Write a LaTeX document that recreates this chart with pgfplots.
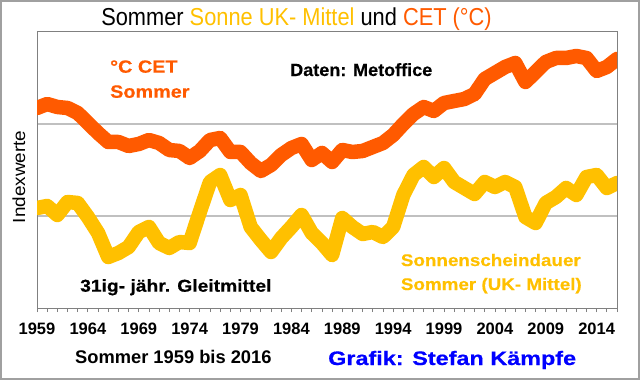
\documentclass[border=0pt]{standalone}
\usepackage{fontspec}
\setmainfont{Liberation Sans}
\usepackage{pgfplots}
\usepackage{pgfplotstable}
\pgfplotsset{compat=1.18}
\newfontfamily\titlefont[FakeStretch=0.89]{Liberation Sans}
\newfontfamily\blk[FakeStretch=1.12,FakeBold=0.4]{Liberation Sans}
\newfontfamily\blkn[FakeStretch=1.02,FakeBold=0.4]{Liberation Sans}
\newfontfamily\idxfont[FakeStretch=1.08]{Liberation Sans}
\newfontfamily\grafikfont[FakeStretch=1.2,FakeBold=0.5]{Liberation Sans}
\definecolor{cet}{RGB}{255,90,0}
\definecolor{sun}{RGB}{255,192,0}
\definecolor{axgray}{RGB}{128,128,128}
\definecolor{gridgray}{RGB}{192,192,192}
\definecolor{framegray}{RGB}{160,160,160}

\pgfplotstableread{
year cet sun
1959 200 100
1960 204 102
1961 201 93
1962 200 106
1963 195 105
1964 185 91
1965 175 75
1966 166 51
1967 166 55
1968 162 61
1969 164 76
1970 168 81
1971 165 65
1972 158 60
1973 157 66
1974 150 65
1975 157 96
1976 168 126
1977 170 133
1978 156 108
1979 156 113
1980 145 81
1981 137 68
1982 143 56
1983 153 70
1984 160 81
1985 164 93
1986 148 75
1987 155 65
1988 146 53
1989 158 90
1990 156 81
1991 157 74
1992 161 76
1993 165 71
1994 173 81
1995 184 113
1996 194 133
1997 201 141
1998 197 131
1999 205 140
2000 207 126
2001 209 120
2002 214 114
2003 229 126
2004 235 121
2005 241 126
2006 245 121
2007 226 91
2008 236 85
2009 246 105
2010 250 111
2011 250 120
2012 252 113
2013 250 131
2014 237 133
2015 241 120
2016 249 125
}\data

\begin{document}
\begin{tikzpicture}[x=1bp,y=1bp]
\path[use as bounding box] (0,0) rectangle (640,380);
\draw[framegray, line width=2bp] (1,1) rectangle (639,379);
\begin{axis}[
  at={(37bp,72bp)}, anchor=south west,
  scale only axis, width=580bp, height=276bp,
  xmin=1959, xmax=2016, ymin=0, ymax=276,
  xtick={1959,1964,1969,1974,1979,1984,1989,1994,1999,2004,2009,2014},
  xticklabels={1959,1964,1969,1974,1979,1984,1989,1994,1999,2004,2009,2014},
  minor xtick={1959,1960,...,2016},
  xtick pos=bottom, tick align=outside,
  major tick length=4bp, minor tick length=4bp,
  tick style={axgray, line width=0.8bp},
  ytick={92,184}, yticklabels={}, ymajorgrids,
  ytick style={draw=none},
  axis line style={axgray, line width=1bp},
  grid style={gridgray, line width=1.2bp},
  xticklabel style={font=\fontsize{16.5bp}{18bp}\selectfont\bfseries, anchor=base, yshift=-22bp},
]
\addplot[sun, line width=14.5bp, line join=round, line cap=round] table[x=year,y=sun]{\data};
\addplot[cet, line width=14.5bp, line join=round, line cap=round] table[x=year,y=cet]{\data};
\end{axis}
\node[anchor=base, inner sep=0] at (296.5,355) {\titlefont\fontsize{24.5bp}{26bp}\selectfont Sommer \textcolor{sun}{Sonne UK- Mittel} und \textcolor{cet}{CET (°C)}};
\node[anchor=base west, inner sep=0, text=cet] at (110,307.3) {\blk\bfseries\fontsize{17.7bp}{19bp}\selectfont °C CET};
\node[anchor=base west, inner sep=0, text=cet] at (110,282.3) {\blk\bfseries\fontsize{17.7bp}{19bp}\selectfont Sommer};
\node[anchor=base west, inner sep=0] at (290,304) {\blkn\bfseries\fontsize{17.7bp}{19bp}\selectfont Daten: Metoffice};
\node[anchor=base west, inner sep=0] at (80,88.3) {\blk\bfseries\fontsize{17.2bp}{19bp}\selectfont 31ig- jähr. Gleitmittel};
\node[anchor=base west, inner sep=0, text=sun] at (400.7,114) {\blk\bfseries\fontsize{16.8bp}{19bp}\selectfont Sonnenscheindauer};
\node[anchor=base west, inner sep=0, text=sun] at (400.7,90) {\blk\bfseries\fontsize{16.8bp}{19bp}\selectfont Sommer (UK- Mittel)};
\node[anchor=base, inner sep=0, rotate=90] at (25,203) {\idxfont\fontsize{17.5bp}{19bp}\selectfont Indexwerte};
\node[anchor=base west, inner sep=0] at (75,16.7) {\bfseries\fontsize{18.3bp}{20bp}\selectfont Sommer 1959 bis 2016};
\node[anchor=base west, inner sep=0, text=blue] at (328,15) {\grafikfont\bfseries\fontsize{19.5bp}{21bp}\selectfont Grafik: Stefan Kämpfe};
\end{tikzpicture}
\end{document}
